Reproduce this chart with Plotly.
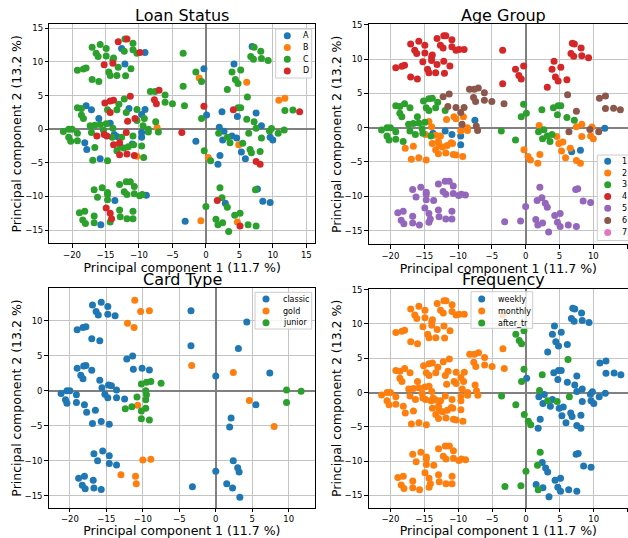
import plotly.graph_objects as go

# ---------------- shared PCA scores: (pc1, pc2, loan status, age group, frequency) ----------------
# frequency codes: w = weekly, m = monthly, g = after_tr
TOP_LEFT = [
    (-17.0, 12.2, "C", "4", "m"), (-15.8, 12.6, "C", "4", "m"), (-14.9, 12.0, "C", "4", "m"),
    (-16.4, 11.3, "C", "4", "m"), (-16.1, 10.8, "C", "4", "m"), (-14.9, 10.9, "C", "4", "m"),
    (-13.8, 10.6, "C", "4", "m"), (-12.1, 13.4, "C", "4", "m"), (-10.9, 12.8, "C", "4", "m"),
    (-10.9, 11.8, "C", "4", "m"), (-12.2, 11.6, "C", "4", "m"), (-10.3, 11.3, "C", "4", "m"),
    (-19.2, 8.75, "C", "4", "m"), (-18.3, 8.95, "C", "4", "m"), (-17.9, 9.1, "C", "4", "m"),
    (-17.0, 7.4, "C", "4", "m"), (-16.0, 7.1, "C", "4", "m"), (-14.5, 8.5, "C", "4", "m"),
    (-14.3, 8.0, "C", "4", "m"), (-13.1, 9.2, "C", "4", "m"), (-13.3, 8.0, "C", "4", "m"),
    (-12.0, 7.95, "C", "4", "m"), (-11.2, 9.0, "C", "4", "m"), (-13.9, 10.3, "C", "4", "m"),
    (-13.1, 13.0, "D", "4", "m"), (-11.8, 13.4, "D", "4", "m"), (-9.85, 11.4, "D", "4", "m"),
    (-15.2, 9.6, "D", "4", "m"), (-13.9, 9.8, "D", "4", "m"),
    (-12.6, 12.0, "A", "4", "m"), (-9.1, 11.4, "A", "4", "m"), (-12.1, 9.7, "A", "4", "m"),
]

MID_LEFT = [
    (-11.3, 4.9, "D", "6", "m"), (-15.1, 3.9, "D", "3", "m"), (-14.3, 4.2, "D", "3", "m"),
    (-13.8, 4.3, "D", "3", "m"), (-14.3, 2.5, "D", "3", "m"), (-11.7, 1.2, "D", "2", "m"),
    (-10.6, 1.6, "D", "2", "m"), (-16.3, -1.0, "D", "3", "m"), (-15.2, -0.8, "D", "3", "m"),
    (-14.8, -1.0, "D", "2", "m"), (-13.8, -2.3, "D", "2", "m"), (-12.9, -2.0, "D", "2", "m"),
    (-12.9, -3.8, "D", "2", "m"), (-11.8, -3.7, "D", "2", "m"), (-10.7, -3.9, "D", "2", "m"),
    (-7.0, 5.8, "D", "6", "m"), (-7.7, 4.4, "D", "6", "m"), (-7.4, 3.8, "D", "6", "m"),
    (-11.9, -0.5, "D", "1", "m"),
    (-7.3, 0.25, "B", "6", "m"), (-10.3, -4.0, "B", "2", "m"),
    (-17.9, 3.5, "A", "3", "m"), (-17.1, 2.9, "A", "3", "m"), (-16.0, 1.6, "A", "3", "m"),
    (-11.5, 3.1, "A", "6", "m"), (-9.1, 2.95, "A", "6", "m"), (-9.6, 2.2, "A", "6", "m"),
    (-14.3, 0.9, "A", "2", "m"), (-13.7, -0.8, "A", "1", "m"), (-13.3, -1.1, "A", "2", "m"),
    (-18.1, -2.0, "A", "3", "m"), (-17.8, -3.0, "A", "2", "m"), (-15.8, -4.4, "A", "2", "m"),
    (-11.0, -2.2, "A", "2", "m"), (-9.6, -1.2, "A", "1", "m"), (-9.6, -0.5, "A", "2", "m"),
    (-8.3, 5.6, "C", "6", "m"), (-7.6, 5.6, "C", "6", "m"), (-6.1, 5.1, "C", "6", "m"),
    (-6.1, 4.0, "C", "6", "m"), (-5.0, 3.8, "C", "6", "m"), (-19.2, 3.2, "C", "3", "m"),
    (-18.6, 3.1, "C", "3", "m"), (-18.6, 2.1, "C", "3", "m"), (-18.3, 1.6, "C", "3", "m"),
    (-17.3, 0.5, "C", "3", "m"), (-16.6, 0.6, "C", "3", "m"), (-15.8, 0.7, "C", "3", "m"),
    (-14.9, 0.8, "C", "3", "m"), (-14.7, 2.9, "C", "3", "m"), (-13.0, 3.7, "C", "3", "m"),
    (-13.3, 2.9, "C", "3", "m"), (-12.2, 4.5, "C", "6", "m"), (-11.9, 2.5, "C", "3", "m"),
    (-10.3, 2.95, "C", "6", "m"), (-10.3, 1.3, "C", "2", "m"), (-9.2, 1.6, "C", "2", "m"),
    (-7.5, 1.1, "C", "1", "m"), (-7.1, -0.4, "C", "6", "m"), (-8.6, 0.0, "C", "2", "m"),
    (-21.3, -0.35, "C", "3", "m"), (-20.5, 0.0, "C", "3", "m"), (-20.0, 0.0, "C", "3", "m"),
    (-19.2, -0.6, "C", "3", "m"), (-20.5, -1.2, "C", "3", "m"), (-20.2, -1.8, "C", "3", "m"),
    (-19.2, -1.7, "C", "3", "m"), (-17.1, -0.5, "C", "3", "m"), (-15.3, -0.15, "C", "3", "m"),
    (-13.9, 0.15, "C", "2", "m"), (-14.0, -1.2, "C", "3", "m"), (-12.6, -1.2, "C", "2", "m"),
    (-12.8, -2.6, "C", "2", "m"), (-11.6, -2.6, "C", "2", "m"), (-10.8, -2.3, "C", "2", "m"),
    (-10.9, -1.0, "C", "1", "m"), (-9.6, -2.5, "C", "1", "m"), (-9.3, -4.2, "C", "2", "m"),
    (-16.6, -2.7, "C", "2", "m"), (-16.9, -4.6, "C", "2", "m"), (-14.7, -4.7, "C", "2", "m"),
    (-13.3, -3.2, "C", "2", "m"), (-12.3, -2.8, "C", "2", "m"), (-8.6, -0.4, "C", "2", "m"),
    (-9.4, 0.5, "C", "6", "m"),
]

BOTTOM_LEFT = [
    (-16.7, -9.0, "C", "5", "m"), (-16.2, -10.1, "C", "5", "m"), (-15.5, -8.7, "C", "5", "m"),
    (-14.7, -9.4, "C", "5", "m"), (-14.7, -10.5, "C", "5", "m"), (-12.9, -8.2, "C", "5", "m"),
    (-11.9, -7.8, "C", "5", "m"), (-11.3, -7.8, "C", "5", "m"), (-10.7, -8.5, "C", "5", "m"),
    (-12.2, -9.3, "C", "5", "m"), (-11.8, -9.7, "C", "5", "m"), (-10.7, -9.6, "C", "5", "m"),
    (-9.9, -9.9, "C", "5", "m"), (-9.5, -9.7, "C", "5", "m"), (-18.9, -12.4, "C", "5", "m"),
    (-18.1, -12.2, "C", "5", "m"), (-18.4, -13.5, "C", "5", "m"), (-18.0, -14.0, "C", "5", "m"),
    (-16.7, -12.9, "C", "5", "m"), (-16.7, -13.9, "C", "5", "m"), (-14.3, -13.8, "C", "5", "m"),
    (-12.9, -12.0, "C", "5", "m"), (-12.8, -13.0, "C", "5", "m"), (-11.8, -13.3, "C", "5", "m"),
    (-10.9, -13.3, "C", "5", "m"), (-10.9, -12.2, "C", "5", "m"), (-14.7, -9.7, "C", "5", "m"),
    (-14.9, -11.7, "D", "5", "m"), (-14.3, -12.5, "D", "5", "m"), (-14.1, -13.3, "D", "5", "m"),
    (-13.6, -10.6, "A", "5", "m"), (-15.7, -14.2, "A", "5", "m"), (-8.9, -9.8, "A", "5", "m"),
]

TOP_RIGHT = [
    (-3.4, 11.3, "C", "4", "m"), (-3.4, 6.4, "C", "4", "m"), (-1.5, 8.5, "C", "4", "g"),
    (-0.65, 7.1, "C", "4", "g"), (3.2, 5.9, "C", "4", "w"), (3.9, 8.5, "C", "4", "w"),
    (4.4, 7.4, "C", "4", "w"), (4.8, 6.8, "C", "4", "w"), (5.2, 8.8, "C", "4", "w"),
    (7.2, 12.2, "C", "4", "w"), (6.7, 10.8, "C", "4", "w"), (7.1, 10.4, "C", "4", "w"),
    (8.2, 11.6, "C", "4", "w"), (8.3, 10.5, "C", "4", "w"), (9.3, 10.2, "C", "4", "w"),
    (-1.0, 7.6, "B", "4", "g"), (6.1, 7.0, "B", "4", "w"),
    (-0.3, 9.0, "A", "4", "g"), (4.2, 9.7, "A", "4", "w"), (6.9, 12.3, "A", "4", "w"),
]

MID_RIGHT = [
    (-3.6, -0.5, "D", "3", "g"), (-0.3, 3.4, "D", "3", "g"), (4.1, 2.9, "D", "3", "w"),
    (14.0, 2.6, "D", "6", "w"), (7.5, -4.8, "D", "2", "w"), (8.1, -5.2, "D", "2", "w"),
    (10.9, 4.3, "B", "6", "w"), (11.8, 4.6, "B", "6", "w"), (0.35, -4.2, "B", "2", "g"),
    (4.9, -2.3, "B", "2", "w"),
    (0.1, 2.1, "A", "3", "w"), (2.4, 2.6, "A", "3", "g"), (7.5, 2.4, "A", "6", "w"),
    (2.0, 0.3, "A", "2", "g"), (2.7, -0.3, "A", "3", "w"), (-1.5, -1.8, "A", "3", "g"),
    (2.5, -1.6, "A", "3", "w"), (3.9, -1.0, "A", "3", "w"), (4.6, -1.3, "A", "2", "g"),
    (4.7, 1.9, "A", "3", "w"), (8.3, 0.5, "A", "2", "w"), (9.6, -1.2, "A", "2", "w"),
    (10.0, -1.6, "A", "2", "w"), (5.3, -3.4, "A", "2", "w"), (5.9, -4.4, "A", "2", "w"),
    (2.1, -3.9, "A", "2", "w"), (1.8, -5.2, "A", "2", "w"),
    (-3.2, 3.5, "C", "6", "m"), (-0.65, 1.6, "C", "3", "g"), (-0.25, -3.2, "C", "2", "g"),
    (0.7, -4.7, "C", "2", "g"), (1.9, -0.6, "C", "3", "w"), (4.8, 3.2, "C", "3", "w"),
    (5.2, 3.2, "C", "3", "w"), (6.2, 4.8, "C", "6", "g"), (6.1, 1.5, "C", "3", "w"),
    (7.2, 1.1, "C", "3", "w"), (7.5, 0.15, "C", "2", "w"), (6.4, -0.6, "C", "6", "g"),
    (3.6, -2.0, "C", "3", "w"), (5.5, -2.1, "C", "2", "w"), (6.6, -3.0, "C", "2", "w"),
    (6.8, -3.5, "C", "1", "w"), (8.1, -3.3, "C", "1", "w"), (8.3, -1.3, "C", "2", "w"),
    (9.5, -0.25, "C", "6", "w"), (9.8, 0.1, "C", "2", "w"), (10.8, -0.6, "C", "6", "w"),
    (11.7, -0.1, "C", "1", "w"), (11.8, 2.8, "C", "6", "w"), (13.0, 2.85, "C", "6", "w"),
    (3.2, -1.2, "C", "3", "g"),
]

BOTTOM_RIGHT = [
    (2.1, -8.7, "C", "5", "g"), (2.4, -10.2, "C", "5", "w"), (3.2, -11.6, "C", "5", "w"),
    (0.0, -11.5, "C", "5", "g"), (1.5, -13.4, "C", "5", "w"), (1.8, -14.2, "C", "5", "g"),
    (2.5, -13.9, "C", "5", "w"), (3.4, -15.2, "C", "5", "w"), (4.3, -12.8, "C", "5", "w"),
    (5.1, -12.5, "C", "5", "w"), (6.3, -14.2, "C", "5", "w"), (7.5, -14.4, "C", "5", "w"),
    (7.4, -9.0, "C", "5", "w"),
    (1.7, -10.6, "D", "5", "g"), (5.1, -14.4, "D", "5", "w"),
    (-0.75, -13.6, "B", "5", "g"), (4.7, -13.8, "B", "5", "w"),
    (-3.1, -13.7, "A", "5", "g"), (2.9, -11.0, "A", "5", "w"), (7.7, -8.9, "A", "5", "w"),
    (8.5, -10.7, "A", "5", "w"), (9.6, -10.9, "A", "5", "w"),
]

LOAN_LABELS = ["A", "B", "C", "D"]
AGE_LABELS = ["1", "2", "3", "4", "5", "6", "7"]
FREQ_CODES = ["w", "m", "g"]
FREQ_LABELS = ["weekly", "monthly", "after_tr"]

# ---------------- card type subset ----------------
CARD_LABELS = ["classic", "gold", "junior"]
classic_pc1 = [-16.9, -15.7, -14.8, -16.4, -16.1, -14.8, -13.8, -19.0, -18.2, -17.8, -17.0, -15.9,
               -3.4, -3.4, 4.25, 3.1, 7.4, 0.0, -12.2, -11.4, -11.3, -10.1, -9.1,
               -19.0, -18.1, -17.8, -18.5, -18.2, -17.0, -15.9, -15.6, -14.7, -14.3, -13.6,
               -15.2, -14.8, -13.6, -12.5, -21.2, -20.4, -20.0, -19.1, -20.6, -20.4, -19.1,
               -18.0, -17.7, -16.5, -16.9, -15.7, -14.6, 5.5, 2.1, 1.9,
               -16.7, -16.2, -15.5, -14.6, -14.6, -13.6, -18.8, -18.0, -18.3, -17.9, -16.8,
               -16.7, -15.7, -3.2, 0.0, 1.5, 2.3, 2.4, 3.0, 3.2, 3.3]
classic_pc2 = [12.2, 12.6, 12.0, 11.3, 10.8, 10.9, 10.7, 8.7, 9.0, 9.1, 7.4, 7.1,
               11.4, 6.4, 9.8, 6.0, 2.5, 2.1, 4.5, 4.95, 3.05, 3.2, 2.95,
               3.2, 3.5, 3.6, 2.2, 1.7, 2.9, 1.5, 0.4, 0.8, 0.7, 0.1,
               -0.5, -1.0, -1.0, -1.2, -0.4, 0.0, 0.0, -0.6, -1.3, -1.8, -1.7,
               -2.0, -3.1, -2.8, -4.7, -4.4, -4.8, -2.0, -3.9, -5.2,
               -9.0, -10.0, -8.6, -9.3, -10.4, -10.6, -12.5, -12.2, -13.5, -14.0, -12.8,
               -13.9, -14.1, -13.7, -11.5, -13.3, -13.9, -10.0, -11.0, -11.6, -15.2]
gold_pc1 = [-11.1, -10.3, -9.1, -12.1, -11.2, -3.3, 2.4, 4.6, 8.0, -10.7, -10.0, -8.9, -13.0, -11.0, -10.9]
gold_pc2 = [12.9, 11.3, 11.4, 9.6, 9.0, 3.6, 2.6, -1.4, -5.1, -2.1, -9.9, -9.8, -12.0, -12.2, -13.3]
junior_pc1 = [-10.2, -9.5, -8.9, -7.5, -10.8, -9.6, -9.5, -9.6, -12.4, -11.5, -10.2, -9.6, -10.2, -9.1,
              9.7, 11.7, 9.7]
junior_pc2 = [0.95, 1.2, 1.3, 1.05, -0.9, 0.0, -0.6, -1.3, -2.6, -2.3, -2.9, -2.5, -4.0, -4.2,
              0.1, -0.1, -1.7]

TITLES = ["Loan Status", "Age Group", "Card Type", "Frequency"]
XLABEL = "Principal component 1 (11.7 %)"
YLABEL = "Principal component 2 (13.2 %)"

COLORS = ["#1f77b4", "#ff7f0e", "#2ca02c", "#d62728", "#9467bd", "#8c564b", "#e377c2"]
FONT = "DejaVu Sans"

ALL_POINTS = TOP_LEFT + MID_LEFT + BOTTOM_LEFT + TOP_RIGHT + MID_RIGHT + BOTTOM_RIGHT


def pick(field, value):
    xs = [p[0] for p in ALL_POINTS if p[field] == value]
    ys = [p[1] for p in ALL_POINTS if p[field] == value]
    return xs, ys


fig = go.Figure()
MSIZE = 7


def add(xs, ys, name, color, n):
    fig.add_trace(go.Scatter(
        x=xs, y=ys, mode="markers", name=name, showlegend=False,
        marker=dict(color=color, size=MSIZE, line=dict(width=0)),
        xaxis="x" if n == 1 else f"x{n}", yaxis="y" if n == 1 else f"y{n}",
    ))


for i, lab in enumerate(LOAN_LABELS):
    xs, ys = pick(2, lab)
    add(xs, ys, lab, COLORS[i], 1)
for i, lab in enumerate(AGE_LABELS):
    xs, ys = pick(3, lab)
    add(xs, ys, lab, COLORS[i], 2)
add(classic_pc1, classic_pc2, CARD_LABELS[0], COLORS[0], 3)
add(gold_pc1, gold_pc2, CARD_LABELS[1], COLORS[1], 3)
add(junior_pc1, junior_pc2, CARD_LABELS[2], COLORS[2], 3)
for i, code in enumerate(FREQ_CODES):
    xs, ys = pick(4, code)
    add(xs, ys, FREQ_LABELS[i], COLORS[i], 4)

W, H = 628, 538


def px_x(v):
    return v / W


def px_y(v):
    return 1 - v / H


# panel boxes in pixels: left, right, top, bottom
boxes = {
    1: (49.3, 315.0, 24.3, 243.3),
    2: (368.7, 628.0, 24.3, 244.3),
    3: (48.7, 315.0, 288.3, 507.7),
    4: (368.7, 628.0, 289.0, 507.7),
}
xranges = {1: [-23.4, 16.3], 2: [-23.2, 15.13], 3: [-22.9, 13.6], 4: [-23.2, 15.05]}
yranges = {1: [-16.96, 15.6], 2: [-17.0, 15.07], 3: [-16.7, 14.6], 4: [-16.8, 15.1]}
title_pos = {1: (182.0, 15.0), 2: (503.0, 15.0), 3: (182.0, 279.0), 4: (503.0, 279.0)}

axis_common = dict(
    showline=True, linecolor="black", linewidth=1,
    ticks="outside", ticklen=3.5, tickwidth=1, tickcolor="black",
    showgrid=True, gridcolor="#c4c4c4", gridwidth=1,
    zeroline=True, zerolinecolor="#808080", zerolinewidth=1.5,
    tickfont=dict(family=FONT, size=8.5, color="black"),
    dtick=5, tick0=0, automargin=False,
)

layout = dict(
    width=W, height=H, template="none", showlegend=False,
    margin=dict(l=0, r=0, t=0, b=0, autoexpand=False),
    paper_bgcolor="white", plot_bgcolor="white",
    font=dict(family=FONT, color="black"),
    annotations=[], shapes=[],
)

for n in range(1, 5):
    l, r, t, b = boxes[n]
    xk = "xaxis" if n == 1 else f"xaxis{n}"
    yk = "yaxis" if n == 1 else f"yaxis{n}"
    xa = "x" if n == 1 else f"x{n}"
    ya = "y" if n == 1 else f"y{n}"
    layout[xk] = dict(axis_common, domain=[px_x(l), px_x(r)], range=xranges[n], anchor=ya,
                      mirror=True,
                      title=dict(text=XLABEL, font=dict(family=FONT, size=12.5), standoff=0))
    layout[yk] = dict(axis_common, domain=[px_y(b), px_y(t)], range=yranges[n], anchor=xa,
                      mirror=(n in (1, 3)),
                      title=dict(text=YLABEL, font=dict(family=FONT, size=12.5), standoff=0))
    tx, ty = title_pos[n]
    layout["annotations"].append(dict(
        text=TITLES[n - 1], xref="paper", yref="paper", x=px_x(tx), y=px_y(ty),
        xanchor="center", yanchor="middle", showarrow=False,
        font=dict(family=FONT, size=16, color="black"),
    ))


# ---- matplotlib-style legends (box, marker dots, labels), positions in pixels ----
def legend(box, marker_x, text_x, ys, labels, colors):
    l, t, r, b = box
    layout["shapes"].append(dict(
        type="rect", xref="paper", yref="paper", layer="above",
        x0=px_x(l), x1=px_x(r), y0=px_y(b), y1=px_y(t),
        fillcolor="rgba(255,255,255,0.8)", line=dict(color="#cccccc", width=1),
    ))
    for yy, lab, col in zip(ys, labels, colors):
        layout["shapes"].append(dict(
            type="circle", xref="paper", yref="paper", layer="above",
            xsizemode="pixel", ysizemode="pixel",
            xanchor=px_x(marker_x), yanchor=px_y(yy),
            x0=-3.5, x1=3.5, y0=-3.5, y1=3.5,
            fillcolor=col, line=dict(width=0),
        ))
        layout["annotations"].append(dict(
            text=lab, xref="paper", yref="paper", x=px_x(text_x), y=px_y(yy),
            xanchor="left", yanchor="middle", showarrow=False,
            font=dict(family=FONT, size=8, color="black"),
        ))


legend((275.7, 29.0, 311.7, 78.0), 287.3, 301.0, [35.7, 47.5, 59.2, 70.9], LOAN_LABELS, COLORS[:4])
legend((597.3, 155.0, 640.0, 240.5), 607.7, 619.5, [161.3, 173.0, 184.7, 196.6, 208.3, 220.6, 232.6],
       AGE_LABELS, COLORS[:7])
legend((255.0, 292.3, 311.7, 329.0), 266.0, 280.5, [299.0, 311.0, 322.7], CARD_LABELS, COLORS[:3])
legend((471.0, 291.7, 532.7, 328.3), 481.7, 496.0, [299.0, 311.0, 323.0], FREQ_LABELS, COLORS[:3])

fig.update_layout(**layout)
fig.write_html(
    "out.html",
    config={"displayModeBar": False},
    post_script="document.body.style.margin='0';document.body.style.overflow='hidden';",
)
